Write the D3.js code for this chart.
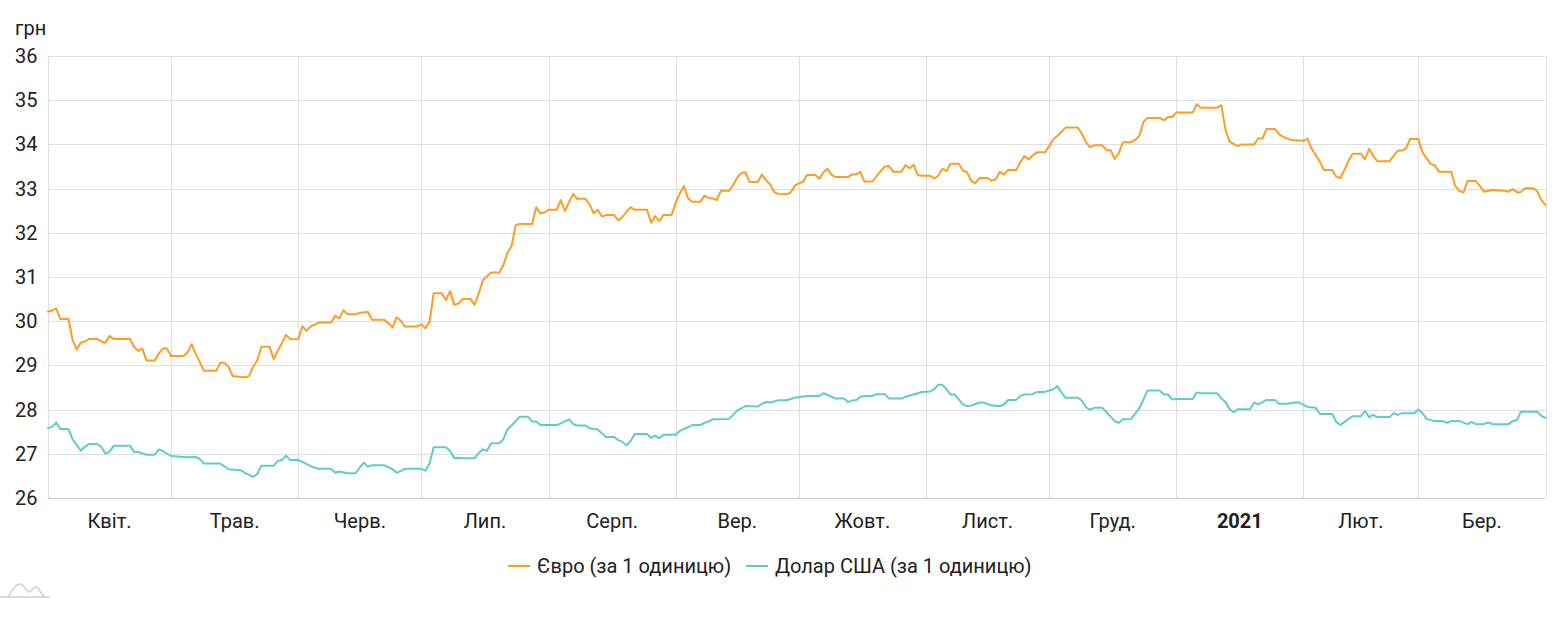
<!DOCTYPE html>
<html><head><meta charset="utf-8">
<script src="https://cdn.jsdelivr.net/npm/d3@7"></script>
<style>
html,body{margin:0;padding:0;background:#fff;}
svg text{font-family:Roboto,"Noto Sans",sans-serif;fill:#212121;}
</style></head>
<body><svg id="c" width="1566" height="634"></svg>
<script>
const startDate = "2020-04-01";
const endDate = "2021-04-01";
const monthLabels = ["Квіт.","Трав.","Черв.","Лип.","Серп.","Вер.","Жовт.","Лист.","Груд.","2021","Лют.","Бер."];
const yTicks = [26,27,28,29,30,31,32,33,34,35,36];
const seriesNames = ["Євро (за 1 одиницю)","Долар США (за 1 одиницю)"];

// days since 2020-04-01 and rate values (UAH)
const eurDays = [0,1,2,3,5,6,7,8,9,10,12,13,14,15,16,20,21,22,23,24,26,27,28,29,30,33,34,35,36,37,38,41,42,43,44,45,47,48,49,50,51,52,54,55,56,57,58,59,61,62,63,64,66,69,70,71,72,73,75,76,78,79,82,83,84,85,86,87,90,91,92,93,94,96,97,98,99,100,101,103,104,105,106,108,110,111,112,113,114,115,118,119,120,121,122,124,125,126,127,128,129,131,132,133,134,135,136,138,139,140,142,143,146,147,148,149,150,152,153,154,155,156,157,159,160,161,162,163,164,166,167,168,169,170,171,173,174,175,176,177,178,180,181,182,183,184,185,187,188,189,190,191,192,195,196,197,198,199,201,202,203,204,205,206,208,209,210,211,212,213,215,216,217,218,219,220,222,223,224,225,226,227,229,230,231,232,233,234,236,237,238,239,240,241,243,244,245,246,248,251,252,253,254,255,257,258,259,260,261,262,264,265,266,267,268,271,272,273,274,275,279,280,281,285,286,287,288,290,291,294,295,296,297,299,300,301,303,306,307,308,309,310,311,313,314,315,316,317,318,320,321,322,323,324,327,328,329,330,331,332,334,335,336,337,338,339,342,343,344,345,346,348,349,350,352,355,356,357,358,359,360,362,363,364,365];
const eurValues = [30.22,30.24,30.29,30.05,30.05,29.57,29.36,29.52,29.54,29.60,29.60,29.54,29.51,29.67,29.60,29.60,29.41,29.33,29.38,29.11,29.11,29.27,29.38,29.38,29.21,29.21,29.29,29.48,29.26,29.08,28.88,28.88,29.06,29.06,28.97,28.76,28.74,28.73,28.76,28.97,29.11,29.42,29.42,29.14,29.33,29.50,29.69,29.60,29.59,29.89,29.78,29.88,29.97,29.97,30.12,30.06,30.25,30.16,30.16,30.19,30.21,30.03,30.03,29.95,29.86,30.09,30.01,29.88,29.88,29.93,29.84,29.99,30.63,30.63,30.48,30.68,30.37,30.40,30.50,30.50,30.37,30.63,30.93,31.10,31.10,31.27,31.55,31.70,32.17,32.20,32.20,32.58,32.44,32.46,32.52,32.52,32.74,32.49,32.70,32.88,32.77,32.77,32.64,32.44,32.52,32.37,32.40,32.40,32.28,32.36,32.58,32.52,32.52,32.23,32.38,32.26,32.40,32.40,32.68,32.89,33.06,32.78,32.70,32.70,32.84,32.79,32.78,32.74,32.95,32.95,33.08,33.25,33.35,33.37,33.15,33.15,33.32,33.19,33.10,32.92,32.88,32.87,32.91,33.06,33.12,33.15,33.31,33.31,33.22,33.37,33.45,33.31,33.26,33.26,33.32,33.32,33.38,33.16,33.16,33.29,33.40,33.50,33.51,33.38,33.38,33.53,33.46,33.54,33.30,33.29,33.29,33.23,33.29,33.45,33.40,33.56,33.56,33.41,33.37,33.18,33.12,33.24,33.24,33.18,33.21,33.38,33.32,33.42,33.42,33.60,33.74,33.66,33.75,33.82,33.82,33.96,34.11,34.19,34.38,34.38,34.24,34.05,33.93,33.98,33.98,33.87,33.87,33.67,33.80,34.05,34.05,34.10,34.19,34.51,34.60,34.60,34.54,34.62,34.62,34.72,34.72,34.91,34.83,34.83,34.89,34.33,34.06,33.96,34.00,34.00,34.14,34.13,34.35,34.35,34.24,34.17,34.10,34.08,34.13,33.90,33.76,33.61,33.42,33.42,33.27,33.24,33.42,33.63,33.79,33.79,33.66,33.90,33.74,33.62,33.62,33.74,33.86,33.86,33.91,34.12,34.12,33.82,33.69,33.56,33.53,33.38,33.38,33.06,32.95,32.91,33.17,33.17,33.06,32.93,32.97,32.95,32.93,32.99,32.92,32.92,33.01,33.01,32.94,32.74,32.63];

const usdDays = [0,1,2,3,5,6,8,9,10,12,13,14,15,16,20,21,22,24,26,27,28,30,33,34,36,37,38,42,44,47,48,50,51,52,55,56,57,58,59,61,63,64,66,69,70,71,73,75,76,77,78,79,82,84,85,87,91,92,93,94,97,98,99,100,101,104,105,106,107,108,110,111,112,113,115,117,118,119,120,124,125,127,128,129,131,132,134,136,138,139,140,141,142,143,146,147,148,149,150,153,154,156,157,159,160,161,162,166,167,168,170,173,174,175,176,178,180,181,182,185,188,189,190,192,194,195,196,197,198,199,201,202,204,205,208,209,213,215,216,217,218,219,220,221,223,224,225,227,228,230,232,233,234,236,237,238,240,241,243,245,246,247,248,251,252,253,254,255,257,258,259,260,261,262,264,266,267,268,271,272,273,274,275,279,280,281,285,286,287,288,289,290,293,294,295,297,299,300,302,304,305,307,309,310,313,314,315,317,318,320,321,322,323,324,327,328,329,330,333,334,335,336,338,340,341,342,344,346,347,348,350,351,352,356,357,358,359,363,364,365];
const usdValues = [27.58,27.61,27.71,27.56,27.56,27.33,27.07,27.16,27.22,27.22,27.16,27.00,27.05,27.18,27.18,27.04,27.04,26.98,26.98,27.10,27.06,26.95,26.93,26.92,26.93,26.88,26.78,26.78,26.65,26.63,26.57,26.48,26.54,26.73,26.73,26.84,26.86,26.96,26.86,26.86,26.77,26.72,26.66,26.66,26.57,26.60,26.56,26.56,26.69,26.80,26.71,26.74,26.74,26.65,26.57,26.66,26.66,26.62,26.78,27.15,27.15,27.07,26.90,26.91,26.90,26.90,27.02,27.10,27.07,27.24,27.24,27.33,27.55,27.64,27.84,27.84,27.73,27.73,27.65,27.65,27.69,27.78,27.67,27.64,27.64,27.58,27.55,27.38,27.38,27.31,27.27,27.19,27.29,27.45,27.45,27.36,27.41,27.35,27.43,27.43,27.52,27.60,27.65,27.65,27.70,27.73,27.78,27.79,27.88,27.98,28.08,28.07,28.13,28.17,28.16,28.21,28.21,28.24,28.27,28.31,28.31,28.37,28.33,28.25,28.25,28.17,28.21,28.21,28.29,28.31,28.31,28.35,28.35,28.25,28.25,28.29,28.40,28.41,28.46,28.56,28.56,28.46,28.34,28.34,28.12,28.08,28.09,28.16,28.16,28.09,28.08,28.11,28.22,28.22,28.31,28.34,28.35,28.40,28.40,28.46,28.53,28.39,28.27,28.27,28.20,28.05,28.00,28.04,28.04,27.94,27.84,27.74,27.70,27.78,27.79,28.03,28.23,28.43,28.43,28.34,28.34,28.23,28.24,28.24,28.39,28.37,28.37,28.25,28.17,28.01,27.94,28.01,28.01,28.16,28.12,28.22,28.22,28.13,28.13,28.16,28.16,28.06,28.04,27.90,27.90,27.72,27.65,27.79,27.85,27.85,27.97,27.83,27.88,27.83,27.83,27.92,27.88,27.92,27.92,28.00,27.92,27.79,27.74,27.74,27.70,27.74,27.74,27.67,27.72,27.67,27.67,27.71,27.67,27.67,27.74,27.76,27.95,27.95,27.86,27.81];

const colors = ["#ff9c23","#62cbc7"];

(function () {
const svg = d3.select("#c");
const mL = 48, mR = 1545.5, mT = 56, mB = 498;
const fs = 20;
const t0 = new Date(startDate + "T00:00:00Z"), t1 = new Date(endDate + "T00:00:00Z");
const x = d3.scaleUtc().domain([t0, t1]).range([mL, mR]);
const y = d3.scaleLinear().domain([26, 36]).range([mB, mT]);

// horizontal gridlines
svg.append("g").selectAll("line").data(yTicks).join("line")
  .attr("x1", mL).attr("x2", mR)
  .attr("y1", d => Math.round(y(d)) + 0.5).attr("y2", d => Math.round(y(d)) + 0.5)
  .attr("stroke", d => d === 26 ? "#c8c8c8" : "#dedede").attr("stroke-width", 1);

// vertical month gridlines
const months = d3.utcMonth.range(t0, d3.utcDay.offset(t1, 1));
svg.append("g").selectAll("line").data(months).join("line")
  .attr("x1", d => Math.round(x(d)) + 0.5).attr("x2", d => Math.round(x(d)) + 0.5)
  .attr("y1", mT).attr("y2", mB)
  .attr("stroke", "#dedede").attr("stroke-width", 1);

// y tick labels
svg.append("g").selectAll("text").data(yTicks).join("text")
  .attr("x", 15).attr("y", d => y(d) + 7)
  .attr("font-size", fs).text(d => d);
svg.append("text").attr("x", 15).attr("y", 35).attr("font-size", fs).text("грн");

// x labels centered in months
const monthStarts = months.slice(0, monthLabels.length);
svg.append("g").selectAll("text").data(monthStarts).join("text")
  .attr("x", d => (x(d) + x(d3.utcMonth.offset(d, 1))) / 2)
  .attr("y", 528).attr("text-anchor", "middle").attr("font-size", fs)
  .attr("font-weight", (d, i) => monthLabels[i] === "2021" ? "bold" : "normal")
  .text((d, i) => monthLabels[i]);

// lines
const line = d3.line().x(d => x(d[0])).y(d => y(d[1]));
const eurData = eurDays.map((d, i) => [d3.utcDay.offset(t0, d), eurValues[i]]);
const usdData = usdDays.map((d, i) => [d3.utcDay.offset(t0, d), usdValues[i]]);
[eurData, usdData].forEach((data, i) => {
  svg.append("path").datum(data).attr("d", line)
    .attr("fill", "none").attr("stroke", colors[i]).attr("stroke-width", 2)
    .attr("stroke-linejoin", "round").attr("stroke-linecap", "round");
});

// legend
const lg = svg.append("g");
const legendX = [508, 746];
seriesNames.forEach((n, i) => {
  lg.append("line").attr("x1", legendX[i]).attr("x2", legendX[i] + 22)
    .attr("y1", 566).attr("y2", 566).attr("stroke", colors[i]).attr("stroke-width", 2);
  lg.append("text").attr("x", legendX[i] + 29).attr("y", 573).attr("font-size", fs).text(n);
});

// small logo
svg.append("path")
  .attr("d", "M0,597 L50,597 M8,597 C13,590 15,584 20,584 C24,584 26,592 29,592 C32,592 33,587 36,587 C39,587 40,594 45,597")
  .attr("fill", "none").attr("stroke", "#d0d0d0").attr("stroke-width", 1.5);
})();
</script></body></html>
